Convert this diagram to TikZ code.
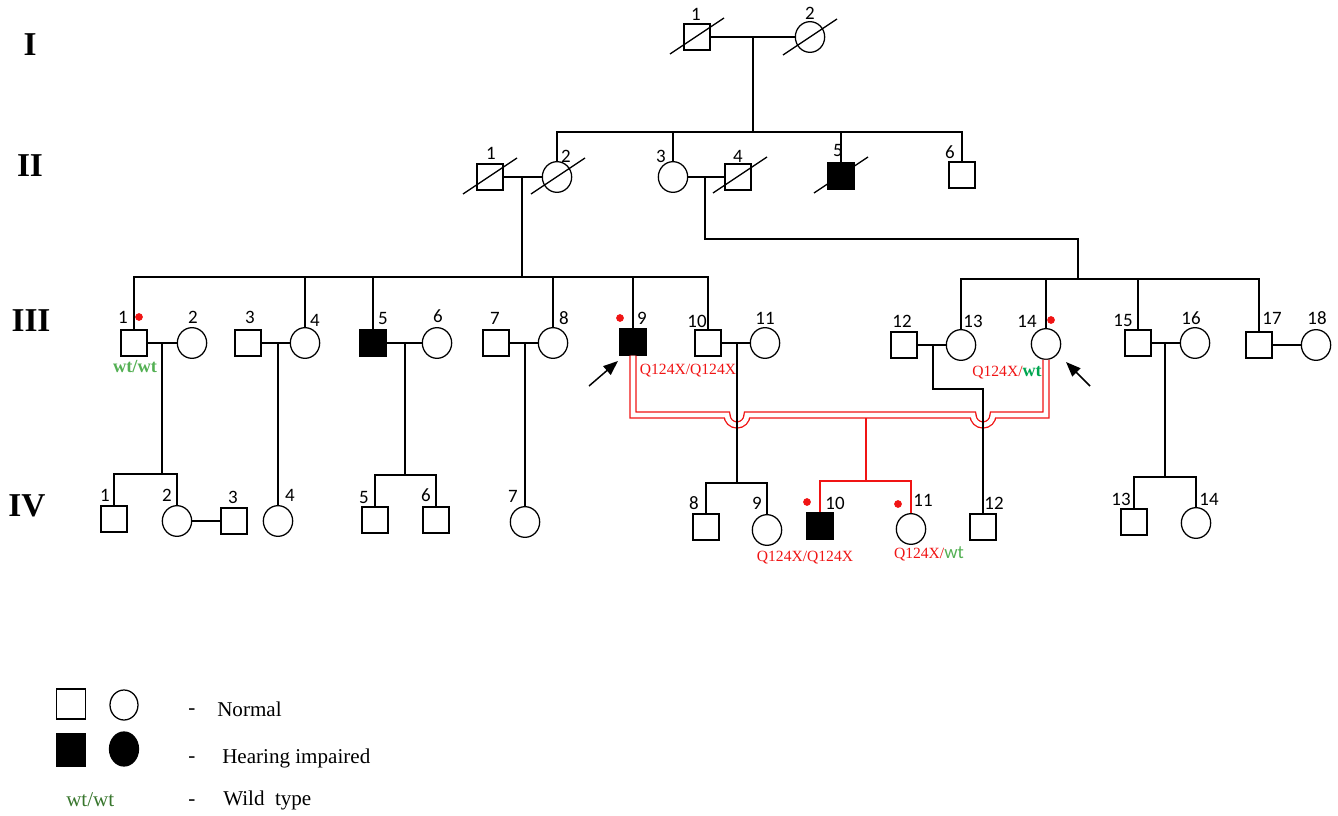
\documentclass[tikz,border=0pt]{standalone}
\usepackage{fontspec}
\setmainfont{Liberation Serif}
\newfontfamily\calfont{Carlito}
\usetikzlibrary{shapes.geometric,positioning,arrows.meta}
\definecolor{rojo}{RGB}{240,20,20}
\definecolor{verde}{RGB}{84,176,84}
\definecolor{verdeb}{RGB}{0,166,80}
\definecolor{verdeo}{RGB}{56,118,45}
\tikzset{
	linea/.style={line width=0.95pt},
	hombre/.style={rectangle, draw, line width=0.95pt, fill=white, minimum size=19.5pt, inner sep=0pt},
	mujer/.style={ellipse, draw, line width=0.95pt, fill=white, minimum width=22pt, minimum height=23pt, inner sep=0pt},
	afectado/.style={hombre, fill=black},
	num/.style={font=\calfont\fontsize{14.2}{14}\selectfont, inner sep=0pt},
	gen/.style={font=\bfseries\fontsize{25}{25}\selectfont, inner sep=0pt},
	mut/.style={text=rojo, font=\fontsize{11.7}{12}\selectfont, inner sep=0pt},
	punto/.style={circle, fill=rojo, minimum size=5.8pt, inner sep=0pt},
	flecha/.style={line width=1.1pt, -{Triangle[length=11pt,width=8.5pt]}},
	doble/.style={draw=rojo, line width=1pt, double=white, double distance=3.5pt},
	leyenda/.style={font=\fontsize{15.8}{16}\selectfont, inner sep=0pt, anchor=west}
}

\begin{document}
\begin{tikzpicture}[x=0.75pt, y=-0.75pt]
	\useasboundingbox (0,0) rectangle (1338,816);

	\node[gen] (gI) at (30,45) {I};
	\node[gen] (gII) at (30,166) {II};
	\node[gen] (gIII) at (31,321) {III};
	\node[gen] (gIV) at (27,506) {IV};

	\node[hombre] (i1) at (697,37) {};
	\node[mujer] (i2) at (810,37) {};
	\node[num] (ni1) at (696,14) {1};
	\node[num] (ni2) at (810,13) {2};

	\node[hombre] (ii1) at (490,177) {};
	\node[mujer] (ii2) at (557,177) {};
	\node[mujer] (ii3) at (673,177) {};
	\node[hombre] (ii4) at (738,177) {};
	\node[afectado] (ii5) at (841,176) {};
	\node[hombre] (ii6) at (962,175) {};
	\node[num] (nii1) at (491,153) {1};
	\node[num] (nii2) at (566,156) {2};
	\node[num] (nii3) at (661,156) {3};
	\node[num] (nii4) at (738,156) {4};
	\node[num] (nii5) at (838,150) {5};
	\node[num] (nii6) at (950,152) {6};

	\node[hombre] (iii1) at (134,343) {};
	\node[mujer] (iii2) at (192,343) {};
	\node[hombre] (iii3) at (248,343) {};
	\node[mujer] (iii4) at (305,343) {};
	\node[afectado] (iii5) at (373,343) {};
	\node[mujer] (iii6) at (437,343) {};
	\node[hombre] (iii7) at (496,343) {};
	\node[mujer] (iii8) at (553,343) {};
	\node[afectado] (iii9) at (633,342) {};
	\node[hombre] (iii10) at (708,343) {};
	\node[mujer] (iii11) at (765,343) {};
	\node[hombre] (iii12) at (904,345) {};
	\node[mujer] (iii13) at (961,345) {};
	\node[mujer] (iii14) at (1046,344) {};
	\node[hombre] (iii15) at (1138,343) {};
	\node[mujer] (iii16) at (1195,343) {};
	\node[hombre] (iii17) at (1259,345) {};
	\node[mujer] (iii18) at (1316,345) {};
	\node[num] (niii1) at (123,317) {1};
	\node[num] (niii2) at (193,317) {2};
	\node[num] (niii3) at (250,317) {3};
	\node[num] (niii4) at (315,320) {4};
	\node[num] (niii5) at (383,318) {5};
	\node[num] (niii6) at (438,316) {6};
	\node[num] (niii7) at (495,318) {7};
	\node[num] (niii8) at (564,318) {8};
	\node[num] (niii9) at (642,318) {9};
	\node[num] (niii10) at (697,321) {10};
	\node[num] (niii11) at (765,318) {11};
	\node[num] (niii12) at (902,321) {12};
	\node[num] (niii13) at (973,321) {13};
	\node[num] (niii14) at (1027,321) {14};
	\node[num] (niii15) at (1123,320) {15};
	\node[num] (niii16) at (1191,318) {16};
	\node[num] (niii17) at (1272,318) {17};
	\node[num] (niii18) at (1317,318) {18};

	\node[hombre] (iv1) at (114,519) {};
	\node[mujer] (iv2) at (177,521) {};
	\node[hombre] (iv3) at (234,521) {};
	\node[mujer] (iv4) at (278,521) {};
	\node[hombre] (iv5) at (375,520) {};
	\node[hombre] (iv6) at (436,520) {};
	\node[mujer] (iv7) at (525,522) {};
	\node[hombre] (iv8) at (706,527) {};
	\node[mujer] (iv9) at (767,530) {};
	\node[afectado] (iv10) at (820,526) {};
	\node[mujer] (iv11) at (911,529) {};
	\node[hombre] (iv12) at (983,527) {};
	\node[hombre] (iv13) at (1134,522) {};
	\node[mujer] (iv14) at (1196,523) {};
	\node[num] (niv1) at (105,495) {1};
	\node[num] (niv2) at (167,495) {2};
	\node[num] (niv3) at (233,497) {3};
	\node[num] (niv4) at (290,495) {4};
	\node[num] (niv5) at (364,497) {5};
	\node[num] (niv6) at (426,495) {6};
	\node[num] (niv7) at (513,496) {7};
	\node[num] (niv8) at (694,503) {8};
	\node[num] (niv9) at (757,503) {9};
	\node[num] (niv10) at (835,503) {10};
	\node[num] (niv11) at (923,500) {11};
	\node[num] (niv12) at (994,503) {12};
	\node[num] (niv13) at (1121,499) {13};
	\node[num] (niv14) at (1209,499) {14};

	\draw[linea] (i1) ++(-27,17) -- ++(54,-36);
	\draw[linea] (i2) ++(-27,18) -- ++(54,-36);
	\draw[linea] (ii1) ++(-27,17) -- ++(54,-36);
	\draw[linea] (ii2) ++(-26,17) -- ++(54,-36);
	\draw[linea] (ii4) ++(-25,16) -- ++(54,-36);
	\draw[linea] (ii5) ++(-27,17) -- ++(54,-36);

	\coordinate (mi) at (753,37);
	\coordinate (sii) at (753,132);
	\draw[linea] (i1) -- (i2);
	\draw[linea] (mi) -- (sii);
	\draw[linea] (ii2.north) |- (ii6.north |- sii) -- (ii6.north);
	\draw[linea] (ii3.north |- sii) -- (ii3.north);
	\draw[linea] (ii5.north |- sii) -- (ii5.north);

	\coordinate (mii1) at (522,177);
	\coordinate (siiia) at (522,277);
	\draw[linea] (ii1) -- (ii2);
	\draw[linea] (mii1) -- (siiia);
	\draw[linea] (iii1.north) |- (iii10.north |- siiia) -- (iii10.north);
	\draw[linea] (iii4.north |- siiia) -- (iii4.north);
	\draw[linea] (iii5.north |- siiia) -- (iii5.north);
	\draw[linea] (iii8.north |- siiia) -- (iii8.north);
	\draw[linea] (iii9.north |- siiia) -- (iii9.north);

	\coordinate (mii3) at (705,177);
	\coordinate (cii3) at (705,239);
	\coordinate (siiib) at (1078,279);
	\draw[linea] (ii3) -- (ii4);
	\draw[linea] (mii3) -- (cii3) -| (siiib);
	\draw[linea] (iii13.north) |- (iii17.north |- siiib) -- (iii17.north);
	\draw[linea] (iii14.north |- siiib) -- (iii14.north);
	\draw[linea] (iii15.north |- siiib) -- (iii15.north);

	\coordinate (cr) at (866,418);
	\coordinate (sr) at (866,481);
	\draw[doble] (iii9.south) -- (iii9.south |- 0,415) -- (727,415) arc[start angle=180, end angle=0, radius=10] -- (973,415) arc[start angle=180, end angle=0, radius=10] -- (iii14.south |- 0,415) -- (iii14.south);
	\draw[linea, rojo] (cr) -- (sr);
	\draw[linea, rojo] (iv10.north) |- (sr) -| (iv11.north);

	\coordinate (miii1) at (162,343);
	\coordinate (siv1) at (162,474);
	\draw[linea] (iii1) -- (iii2);
	\draw[linea] (miii1) -- (siv1);
	\draw[linea] (iv1.north) |- (siv1) -| (iv2.north);
	\draw[linea] (iv2) -- (iv3);

	\coordinate (miii3) at (278,343);
	\draw[linea] (iii3) -- (iii4);
	\draw[linea] (miii3) -- (iv4.north);

	\coordinate (miii5) at (405,343);
	\coordinate (siv5) at (405,475);
	\draw[linea] (iii5) -- (iii6);
	\draw[linea] (miii5) -- (siv5);
	\draw[linea] (iv5.north) |- (siv5) -| (iv6.north);

	\coordinate (miii7) at (525,343);
	\draw[linea] (iii7) -- (iii8);
	\draw[linea] (miii7) -- (iv7.north);

	\coordinate (miii10) at (737,343);
	\coordinate (siv8) at (737,483);
	\draw[linea] (iii10) -- (iii11);
	\draw[linea] (miii10) -- (siv8);
	\draw[linea] (iv8.north) |- (siv8) -| (iv9.north);

	\coordinate (miii12) at (933,345);
	\coordinate (ciii12) at (933,389);
	\draw[linea] (iii12) -- (iii13);
	\draw[linea] (miii12) -- (ciii12) -| (iv12.north);

	\coordinate (miii15) at (1165,343);
	\coordinate (siv13) at (1165,477);
	\draw[linea] (iii15) -- (iii16);
	\draw[linea] (miii15) -- (siv13);
	\draw[linea] (iv13.north) |- (siv13) -| (iv14.north);

	\draw[linea] (iii17) -- (iii18);

	\node[punto] (piii1) at (139,317) {};
	\node[punto] (piii9) at (620,318) {};
	\node[punto] (piii14) at (1051,320) {};
	\node[punto] (piv10) at (807,502) {};
	\node[punto] (piv11) at (898,504) {};

	\node[text=verde, font=\bfseries\fontsize{13.8}{14}\selectfont, inner sep=0pt] (giii1) at (135,367) {wt/wt};
	\node[mut] (giii9) at (688,371) {Q124X/Q124X};
	\node[mut] (giii14) at (1007,373) {Q124X/\textcolor{verdeb}{\bfseries\fontsize{13.5}{13}\selectfont wt}};
	\node[mut] (giv9) at (805,558) {Q124X/Q124X};
	\node[mut] (giv11) at (929,554) {Q124X/\textcolor{verde}{\calfont\fontsize{14}{13}\selectfont wt}};

	\coordinate (fa1) at (589,386);
	\coordinate (fa2) at (618,361);
	\coordinate (fb1) at (1090,386);
	\coordinate (fb2) at (1066,362);
	\draw[flecha] (fa1) -- (fa2);
	\draw[flecha] (fb1) -- (fb2);

	\node[hombre, minimum width=21.75pt, minimum height=22.5pt] (ley1) at (71,704) {};
	\node[mujer, minimum width=21pt, minimum height=22.5pt] (ley2) at (124,705) {};
	\node[afectado, minimum width=21.75pt, minimum height=24pt] (ley3) at (71,750) {};
	\node[mujer, fill=black, minimum width=21.75pt, minimum height=25.5pt] (ley4) at (124,749) {};
	\node[leyenda, text=verdeo] (ley5) at (66,800) {wt/wt};
	\node[leyenda] (gu1) at (188,712) {-};
	\node[leyenda] (gu2) at (188,760) {-};
	\node[leyenda] (gu3) at (188,803) {-};
	\node[leyenda] (tx1) at (217,709) {Normal};
	\node[leyenda] (tx2) at (222,758) {Hearing impaired};
	\node[leyenda] (tx3) at (223,800) {Wild\ \ type};
\end{tikzpicture}
\end{document}
